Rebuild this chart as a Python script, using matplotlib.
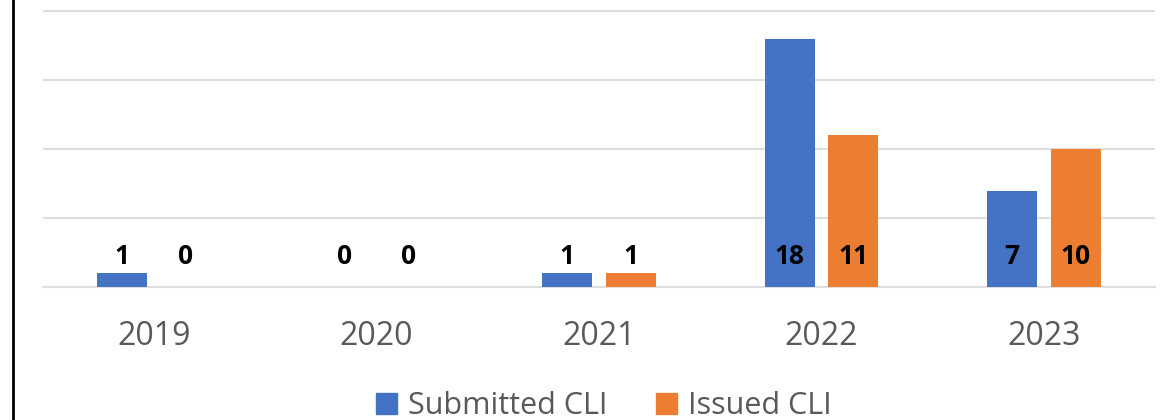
import matplotlib
matplotlib.use("Agg")
import matplotlib.pyplot as plt
from matplotlib.patches import Patch
from matplotlib.lines import Line2D
import numpy as np

years = ["2019", "2020", "2021", "2022", "2023"]
submitted = [1, 0, 1, 18, 7]
issued = [0, 0, 1, 11, 10]
series_names = ["Submitted CLI", "Issued CLI"]

BLUE = "#4472C4"
ORANGE = "#ED7D31"
GREY = "#595959"
FONT = "Open Sans"

W, H = 1175, 420
fig = plt.figure(figsize=(W / 100, H / 100), dpi=100)
ax = fig.add_axes([43 / W, 133 / H, (1155 - 43) / W, 287 / H])

x = np.arange(len(years))
bw = 0.225
off = 0.143
ax.bar(x - off, submitted, bw, color=BLUE, zorder=3)
ax.bar(x + off, issued, bw, color=ORANGE, zorder=3)

label_y = 2.18
for xi, v in zip(x - off, submitted):
    ax.text(xi, label_y, str(v), ha="center", va="center", fontsize=19,
            fontweight="bold", family=FONT, color="black", zorder=4)
for xi, v in zip(x + off, issued):
    ax.text(xi, label_y, str(v), ha="center", va="center", fontsize=19,
            fontweight="bold", family=FONT, color="black", zorder=4)

ax.set_xlim(-0.5, len(years) - 0.5)
ax.set_ylim(0, 20.83)
ax.set_yticks([0, 5, 10, 15, 20])
ax.yaxis.grid(True, color="#DEDEDE", linewidth=1.5, zorder=0)
ax.tick_params(axis="y", left=False, labelleft=False)
ax.set_xticks(x)
ax.set_xticklabels(years, family=FONT, fontsize=23, color=GREY)
ax.tick_params(axis="x", length=0, pad=24)
for s in ["top", "right", "left"]:
    ax.spines[s].set_visible(False)
ax.spines["bottom"].set_color("#DEDEDE")
ax.spines["bottom"].set_linewidth(1.5)

fig.add_artist(Line2D([13 / W, 13 / W], [0, 1], color="black", linewidth=2,
                      transform=fig.transFigure))

handles = [Patch(color=BLUE), Patch(color=ORANGE)]
fig.legend(handles, series_names, loc="center", bbox_to_anchor=(604 / W, 1 - 406 / H),
           ncol=2, frameon=False, handlelength=0.68, handleheight=0.68,
           handletextpad=0.35, columnspacing=1.6,
           prop={"family": FONT, "size": 22}, labelcolor=GREY)

fig.savefig("out.png", dpi=100)
